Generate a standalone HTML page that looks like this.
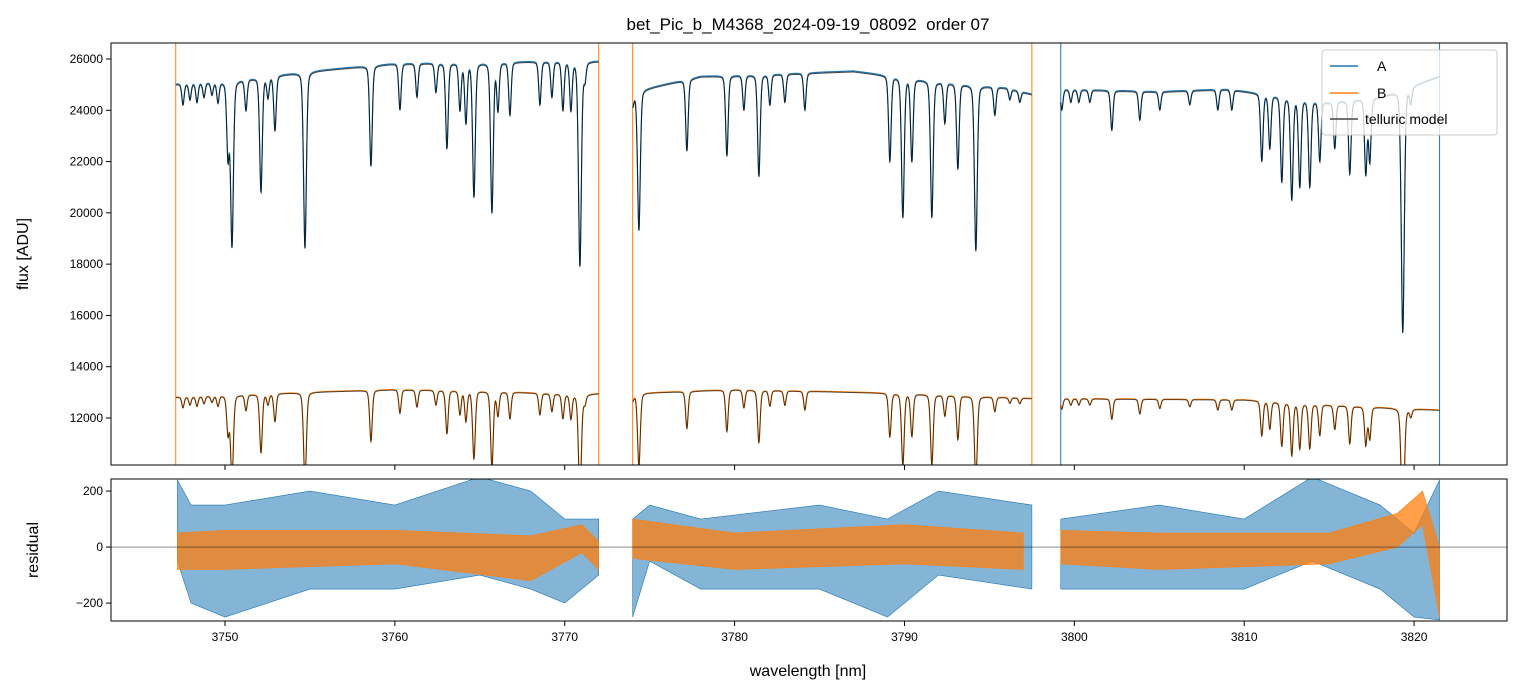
<!DOCTYPE html>
<html><head><meta charset="utf-8">
<style>
html,body{margin:0;padding:0;background:#fff;}
svg{display:block;font-family:"Liberation Sans","DejaVu Sans",sans-serif;}
</style></head>
<body>
<svg id="chart" width="1520" height="696" viewBox="0 0 1520 696">
<text x="808" y="30" text-anchor="middle" font-size="17" style="white-space:pre">bet_Pic_b_M4368_2024-09-19_08092  order 07</text>
<defs>
<clipPath id="ct"><rect x="111" y="43" width="1396" height="422"/></clipPath>
<clipPath id="cb"><rect x="111" y="479" width="1396" height="142"/></clipPath>
</defs>
<g id="topg" clip-path="url(#ct)"></g>
<g id="botg" clip-path="url(#cb)"></g>
<g id="axesg"></g>
<text x="28" y="254" transform="rotate(-90 28 254)" text-anchor="middle" font-size="16">flux [ADU]</text>
<text x="38" y="550" transform="rotate(-90 38 550)" text-anchor="middle" font-size="16">residual</text>
<text x="808" y="676" text-anchor="middle" font-size="16">wavelength [nm]</text>
<g>
<rect x="1322" y="50" width="175" height="85" fill="#fff" fill-opacity="0.8" stroke="#ccc" rx="3"/>
<g><line x1="1330" y1="66" x2="1358" y2="66" stroke="#1f77b4" stroke-width="1.5"/><text x="1377" y="71" font-size="14">A</text></g>
<g><line x1="1330" y1="93" x2="1358" y2="93" stroke="#ff7f0e" stroke-width="1.5"/><text x="1377" y="98" font-size="14">B</text></g>
<g><line x1="1330" y1="119" x2="1358" y2="119" stroke="#444" stroke-width="1.5"/><text x="1365" y="124" font-size="14">telluric model</text></g>
</g>
</svg>
<script>
// ---- data ----
const segments = [[3747.1,3772.0],[3774.0,3797.5],[3799.2,3821.5]];
const contA_wl = [3747.1,3750,3755,3760,3765,3770,3772.0, 3774.0,3778,3783,3787,3792,3796,3797.5, 3799.2,3805,3809,3815,3818,3821.5];
const contA_fx = [25000,25100,25500,25800,25850,25900,25900, 24700,25300,25400,25500,25100,24850,24600, 24800,24700,24800,24300,24500,25300];
const contB_wl = [3747.1,3755,3760,3765,3771,3772.0, 3774.0,3780,3790,3797.5, 3799.2,3810,3815,3821.5];
const contB_fx = [12800,13000,13100,13050,12900,12950, 12950,13100,12950,12750, 12750,12700,12500,12300];
const lineX = [183,190,197,204,212,218,228,232,246,261,268,275,305,371,400,417,436,447,460,466,474,492,498,510,540,552,563,571,580,585,
 633,639,687,727,744,759,770,785,805,890,903,912,932,945,958,976,995,1010,1020,
 1062,1071,1079,1090,1112,1140,1160,1190,1218,1232,1262,1270,1282,1292,1300,1310,1320,1335,1350,1366,1370,1403,1411];
const lineMin = [24200,24400,24300,24500,24600,24300,22200,18700,24000,20800,24500,23200,18600,21800,24000,24500,24700,22500,24000,23500,20600,20000,24000,23800,24200,24500,24000,24000,17900,25200,
 24200,19300,22400,22200,24000,21400,24200,24300,24000,22000,19800,22000,19800,23500,21700,18500,23800,24400,24300,
 24000,24300,24300,24300,23200,23600,24000,24200,24000,24000,22000,22500,21200,20500,21000,21000,22000,22500,21500,21500,22000,15300,24300];
const resA_wl = [[3747.2,3748,3750,3755,3760,3765,3768,3770,3772],[3774,3775,3778,3785,3789,3792,3797.5],[3799.2,3805,3810,3814,3818,3820,3821.5]];
const resA_hi = [[240,150,150,200,150,250,200,100,100],[100,150,100,150,100,200,150],[100,150,100,250,150,50,240]];
const resA_lo = [[-50,-200,-250,-150,-150,-100,-150,-200,-100],[-250,-50,-150,-150,-250,-100,-150],[-150,-150,-150,-50,-150,-250,-260]];
const resB_wl = [[3747.2,3750,3760,3768,3771,3772],[3774,3780,3790,3797],[3799.2,3805,3815,3819,3820.5,3821.5]];
const resB_hi = [[50,60,60,40,80,20],[100,50,80,50],[60,50,50,120,200,0]];
const resB_lo = [[-80,-80,-60,-120,-20,-80],[-40,-80,-60,-80],[-60,-80,-60,0,80,-250]];
const xTicks = [3750,3760,3770,3780,3790,3800,3810,3820];
const yTicks = [12000,14000,16000,18000,20000,22000,24000,26000];
const rTicks = [-200,0,200];

// ---- scales ----
const X = w => 111 + (w-3743.29)/(3825.47-3743.29)*1396;
const Y = f => 465 - (f-10167)/(26624-10167)*422;
const R = r => 621 - (r+264)/(243+264)*142;
const NS='http://www.w3.org/2000/svg';
function mk(tag, attrs, parent){const e=document.createElementNS(NS,tag);for(const k in attrs)e.setAttribute(k,attrs[k]);parent.appendChild(e);return e;}
function interp(xs,ys,x){if(x<=xs[0])return ys[0];for(let i=1;i<xs.length;i++){if(x<=xs[i]){const t=(x-xs[i-1])/(xs[i]-xs[i-1]);return ys[i-1]+t*(ys[i]-ys[i-1]);}}return ys[ys.length-1];}
const lineWl = lineX.map(x=>3750+(x-225)/16.99);
function transA(w){
  let t=1;
  for(let i=0;i<lineWl.length;i++){
    const c=interp(contA_wl,contA_fx,lineWl[i]);
    const d=1-lineMin[i]/c; if(d<=0)continue;
    const s=0.07+0.06*d;
    const dx=(w-lineWl[i])/s;
    t*= 1 - d*(0.7*Math.exp(-0.5*dx*dx)+0.3/(1+dx*dx));
  }
  return t;
}
const gTop=document.getElementById('topg'), gBot=document.getElementById('botg'), gAxes=document.getElementById('axesg');

[[3747.1,'#ff7f0e'],[3772.0,'#ff7f0e'],[3774.0,'#ff7f0e'],[3797.5,'#ff7f0e'],[3799.2,'#1f77b4'],[3821.5,'#1f77b4']].forEach(([w,c])=>{
  const l=mk('line',{x1:X(w),x2:X(w),y1:43,y2:465,stroke:c,'stroke-width':1},gTop);
  
  
});

segments.forEach((sg,si)=>{
  let pA='',pB='',pM='',pMB='';
  for(let w=sg[0];w<=sg[1]+1e-9;w+=0.015){
    const t=transA(w);
    const a=interp(contA_wl,contA_fx,w)*t, b=interp(contB_wl,contB_fx,w)*t;
    const x=X(w).toFixed(2);
    pA+=(pA?'L':'M')+x+','+Y(a+40).toFixed(2);
    pM+=(pM?'L':'M')+x+','+Y(a).toFixed(2);
    pB+=(pB?'L':'M')+x+','+Y(b+20).toFixed(2);
    pMB+=(pMB?'L':'M')+x+','+Y(b).toFixed(2);
  }
  const e1=mk('path',{d:pA,fill:'none',stroke:'#1f77b4','stroke-width':1.2},gTop);
  
  
  const e2=mk('path',{d:pB,fill:'none',stroke:'#ff7f0e','stroke-width':1.2},gTop);
  
  
  const e3=mk('path',{d:pM,fill:'none',stroke:'#000','stroke-opacity':0.72,'stroke-width':1},gTop);
  
  
  const e4=mk('path',{d:pMB,fill:'none',stroke:'#000','stroke-opacity':0.65,'stroke-width':1},gTop);
  
  
});

function band(wl,hi,lo,color,op,name){
  let d='M'+wl.map((w,i)=>X(w).toFixed(2)+','+R(hi[i]).toFixed(2)).join('L');
  for(let i=wl.length-1;i>=0;i--)d+='L'+X(wl[i]).toFixed(2)+','+R(lo[i]).toFixed(2);
  const e=mk('path',{d:d+'Z',fill:color,'fill-opacity':op,stroke:color,'stroke-width':0.6},gBot);
  
  
}
resA_wl.forEach((wl,i)=>band(wl,resA_hi[i],resA_lo[i],'#1f77b4',0.55,'residual-a-segment-'+(i+1)));
resB_wl.forEach((wl,i)=>band(wl,resB_hi[i],resB_lo[i],'#ff7f0e',0.75,'residual-b-segment-'+(i+1)));
const zl=mk('line',{x1:111,x2:1507,y1:R(0),y2:R(0),stroke:'#000','stroke-width':0.6,'stroke-opacity':0.7},gBot);



const f1=mk('rect',{x:111,y:43,width:1396,height:422,fill:'none',stroke:'#000','stroke-width':1},gAxes);


const f2=mk('rect',{x:111,y:479,width:1396,height:142,fill:'none',stroke:'#000','stroke-width':1},gAxes);


xTicks.forEach(t=>{
  const x=X(t);
  mk('line',{x1:x,x2:x,y1:465,y2:470,stroke:'#000'},gAxes);
  mk('line',{x1:x,x2:x,y1:621,y2:626,stroke:'#000'},gAxes);
  const tx=mk('text',{x:x,y:641,'text-anchor':'middle','font-size':12},gAxes);
  tx.textContent=t;
  
  
});
yTicks.forEach(t=>{
  const y=Y(t);
  mk('line',{x1:106,x2:111,y1:y,y2:y,stroke:'#000'},gAxes);
  const tx=mk('text',{x:103,y:y+4,'text-anchor':'end','font-size':12},gAxes);
  tx.textContent=t;
  
  
});
rTicks.forEach(t=>{
  const y=R(t);
  mk('line',{x1:106,x2:111,y1:y,y2:y,stroke:'#000'},gAxes);
  const tx=mk('text',{x:103,y:y+4,'text-anchor':'end','font-size':12},gAxes);
  tx.textContent=t===-200?'\u2212200':t;
  
  
});
</script>
</body></html>
